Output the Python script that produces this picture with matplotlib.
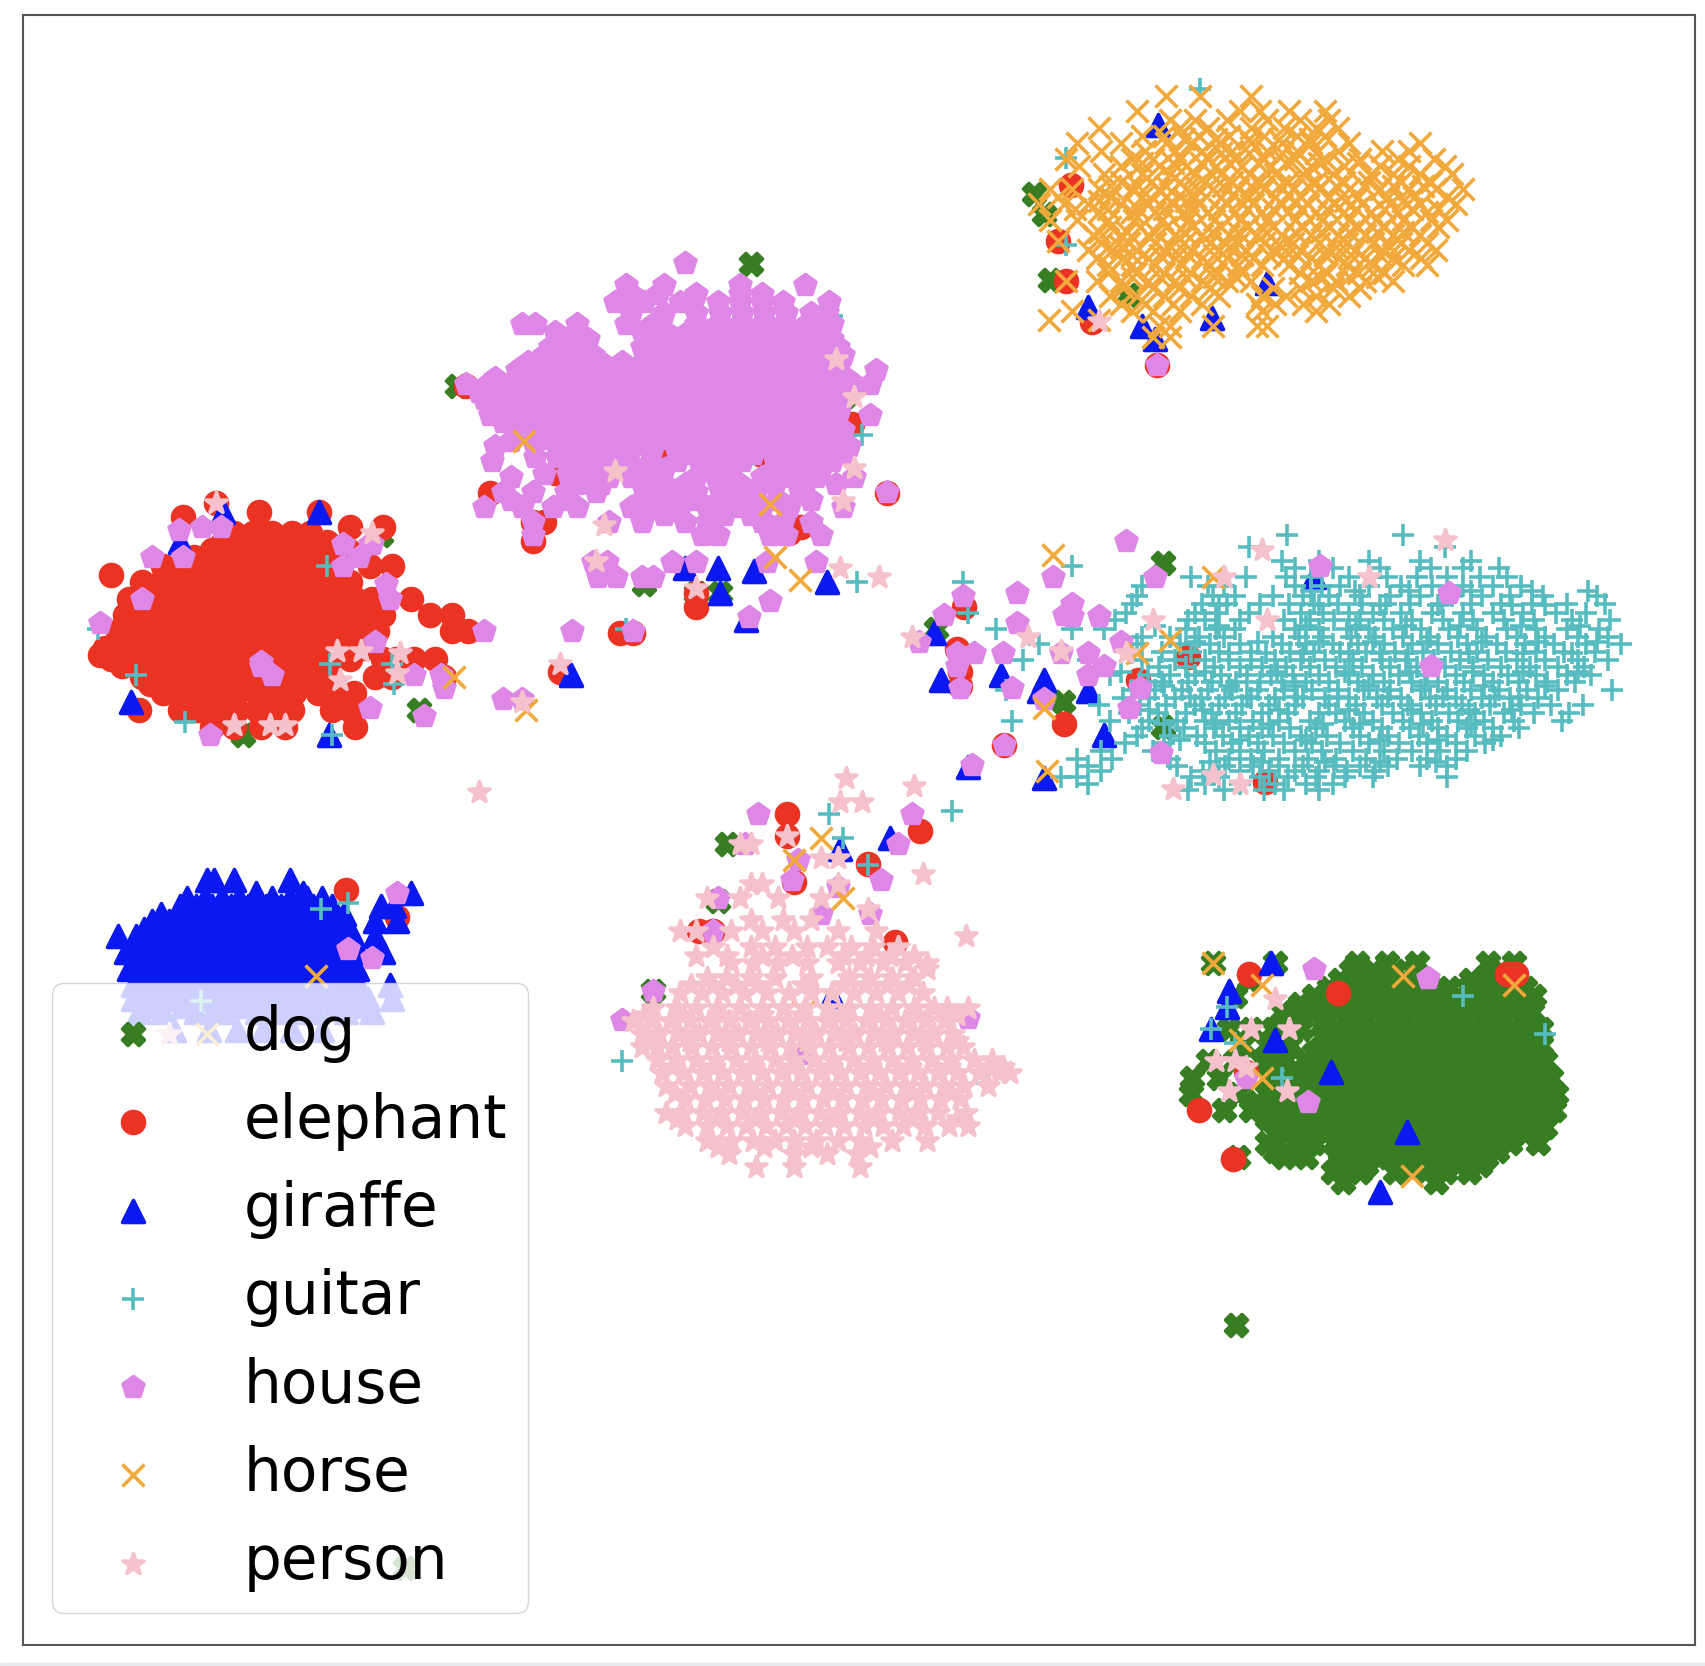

import numpy as np
import matplotlib
matplotlib.use("Agg")
import matplotlib.pyplot as plt
from matplotlib.patches import Rectangle

labels = ["dog", "elephant", "giraffe", "guitar", "house", "horse", "person"]
markers = ["X", "o", "^", "+", "p", "x", "*"]
colors = ["#377d22", "#eb3324", "#0a18f2", "#57bcc0", "#df87e7", "#f2a93b", "#f5c2cb"]

# Each entry is (y, [x values in that row]).
dog_rows = [
    (243, [690]), (355, [420]), (178, [950]), (197, [960]), (257, [965]), (271, [1037]),
    (365, [776]), (492, [350]), (517, [1069]), (537, [592]), (545, [640, 662]), (578, [860]),
    (645, [977]), (652, [385]), (668, [1069]), (675, [223]), (775, [668]), (828, [660]),
    (910, [600]), (1217, [1136]), (1440, [372]),
    (885, [1115, 1172, 1247, 1275, 1302, 1368, 1392]),
    (900, [1148, 1232, 1252, 1270, 1290, 1310, 1352, 1372, 1392]),
    (915, [1135, 1208, 1232, 1250, 1268, 1286, 1304, 1322, 1340, 1358, 1376, 1394, 1410]),
    (930, [1178, 1205, 1228, 1246, 1264, 1282, 1300, 1318, 1336, 1354, 1372, 1390, 1408]),
    (945, [1130, 1150, 1170, 1196, 1228, 1246, 1264, 1282, 1300, 1318, 1336, 1354, 1372, 1390, 1404, 1416]),
    (960, [1142, 1165, 1186, 1225, 1243, 1261, 1279, 1297, 1315, 1333, 1351, 1369, 1387, 1405, 1416]),
    (975, [1110, 1135, 1160, 1180, 1200, 1218, 1236, 1254, 1272, 1290, 1308, 1326, 1344, 1362, 1380, 1398, 1420]),
    (990, [1096, 1120, 1168, 1190, 1208, 1226, 1244, 1262, 1280, 1298, 1316, 1334, 1352, 1370, 1388, 1406, 1426]),
    (1005, [1095, 1138, 1165, 1183, 1201, 1219, 1237, 1255, 1273, 1291, 1309, 1327, 1345, 1363, 1381, 1399, 1417, 1430]),
    (1020, [1125, 1150, 1172, 1190, 1208, 1226, 1244, 1262, 1280, 1298, 1316, 1334, 1352, 1370, 1388, 1406, 1428]),
    (1035, [1180, 1198, 1216, 1234, 1252, 1270, 1288, 1306, 1324, 1342, 1360, 1378, 1396, 1420]),
    (1050, [1165, 1190, 1208, 1226, 1244, 1262, 1280, 1298, 1316, 1334, 1352, 1370, 1388, 1414]),
    (1063, [1138, 1180, 1200, 1240, 1258, 1276, 1294, 1312, 1330, 1348, 1366]),
    (1077, [1225, 1250, 1282, 1310, 1328, 1350]),
    (1086, [1320, 1234]),
    (892, [1242, 1262, 1282, 1300, 1380]),
    (908, [1222, 1241, 1260, 1278, 1296, 1314, 1332, 1350, 1367, 1385, 1402]),
    (922, [1195, 1218, 1238, 1256, 1274, 1292, 1310, 1328, 1346, 1364, 1382, 1400]),
    (937, [1190, 1218, 1236, 1254, 1272, 1290, 1308, 1326, 1344, 1362, 1380, 1398]),
    (952, [1215, 1234, 1252, 1270, 1288, 1306, 1324, 1342, 1360, 1378, 1396, 1412]),
    (967, [1175, 1208, 1227, 1245, 1263, 1281, 1299, 1317, 1335, 1353, 1371, 1389, 1407]),
    (982, [1190, 1209, 1227, 1245, 1263, 1281, 1299, 1317, 1335, 1353, 1371, 1389, 1410]),
    (997, [1178, 1199, 1217, 1235, 1253, 1271, 1289, 1307, 1325, 1343, 1361, 1379, 1397, 1416]),
    (1012, [1155, 1175, 1192, 1210, 1228, 1246, 1264, 1282, 1300, 1318, 1336, 1354, 1372, 1390, 1408, 1425]),
    (1027, [1165, 1184, 1202, 1220, 1238, 1256, 1274, 1292, 1310, 1328, 1346, 1364, 1382, 1400, 1415]),
    (1042, [1172, 1200, 1218, 1236, 1254, 1272, 1290, 1308, 1326, 1344, 1362, 1380, 1402]),
    (1057, [1172, 1192, 1232, 1250, 1268, 1286, 1304, 1322, 1340, 1358, 1376]),
    (1070, [1232, 1256, 1290, 1316, 1340, 1360]),
]
elephant_rows = [
    (335, [1063]), (355, [428]), (390, [783]), (418, [605, 700]), (435, [510]), (453, [815, 450]),
    (462, [198]), (480, [500, 490]), (484, [736]), (497, [490]), (490, [725]), (170, [984]),
    (222, [972]), (258, [980]), (296, [1004]), (558, [886, 640]), (545, [640]), (582, [570, 582]),
    (596, [880]), (604, [1092]), (617, [515, 882]), (625, [1046]), (630, [882]), (665, [978]),
    (684, [923]), (718, [1163]), (748, [723]), (768, [723]), (763, [846]), (794, [798]),
    (810, [730]), (855, [642, 655]), (865, [823]), (842, [365]), (818, [318]),
    (895, [1148, 1385, 1393]), (912, [1230]), (1020, [1102]), (1065, [1133]), (985, [1145]),
    (470, [238]), (475, [168]), (528, [102]), (484, [322, 352]), (470, [293]),
    (490, [215, 232, 250, 268, 285]),
    (505, [195, 212, 228, 245, 262, 280, 296, 320]),
    (520, [150, 168, 185, 202, 218, 236, 252, 270, 288, 305, 340, 360]),
    (535, [130, 148, 165, 182, 200, 216, 234, 250, 268, 286, 304, 322]),
    (550, [118, 135, 152, 170, 186, 204, 220, 238, 254, 272, 290, 308, 326, 342, 378]),
    (565, [115, 132, 150, 166, 184, 200, 218, 234, 252, 268, 286, 302, 320, 336, 352, 395, 415]),
    (580, [108, 126, 142, 160, 176, 194, 210, 228, 244, 262, 278, 296, 312, 330, 346, 415, 430]),
    (595, [96, 114, 130, 148, 164, 182, 198, 216, 232, 250, 266, 284, 300, 318, 335]),
    (605, [102, 120, 138, 154, 172, 188, 206, 222, 240, 256, 274, 290, 306, 322, 352, 364, 380, 400]),
    (622, [130, 148, 164, 182, 198, 216, 232, 250, 266, 284, 300, 345, 360, 408]),
    (637, [150, 168, 184, 202, 218, 236, 252, 270, 292, 310, 325]),
    (652, [128, 165, 182, 200, 218, 236, 254, 268, 305, 322]),
    (668, [195, 215, 240, 262, 326]),
    (602, [92, 110]), (612, [112, 128]), (628, [138, 156]), (498, [205, 300]), (512, [178, 310]),
]
giraffe_rows = [
    (282, [1000]), (115, [1064]), (260, [1165]), (292, [1114]), (300, [1050]), (312, [1062]),
    (470, [293, 205]), (498, [165]), (522, [660, 630]), (525, [693]), (535, [760]), (545, [662]),
    (570, [686]), (582, [858]), (620, [525, 920]), (625, [865, 960]), (635, [1000, 955]),
    (645, [120]), (675, [1015, 302]), (705, [890]), (715, [960]), (770, [818]),
    (530, [1208]), (885, [1168]), (910, [1130]), (925, [1128]), (945, [1113]), (955, [1172]),
    (985, [1223]), (1040, [1293]), (1095, [1268]), (915, [765]), (780, [772]),
    (808, [190, 197, 215, 266]), (820, [235, 278, 378]),
    (832, [165, 180, 195, 212, 228, 244, 258, 272, 288, 305, 350, 362]),
    (846, [140, 155, 170, 186, 202, 216, 232, 248, 262, 278, 292, 308, 345, 365]),
    (860, [108, 125, 142, 156, 172, 188, 204, 218, 234, 250, 264, 280, 296, 312, 324, 345]),
    (875, [116, 132, 150, 166, 180, 196, 212, 226, 242, 258, 272, 288, 304, 318, 330, 352]),
    (890, [118, 134, 148, 164, 178, 194, 208, 224, 238, 254, 268, 284, 298, 314, 328]),
    (905, [122, 138, 154, 170, 186, 202, 218, 234, 250, 266, 282, 298, 314, 330, 358]),
    (918, [122, 140, 158, 176, 192, 210, 228, 246, 264, 282, 300, 318, 338, 360]),
    (930, [128, 150, 180, 205, 236, 256, 272, 290, 318, 342]),
    (946, [160, 192, 218, 242, 268, 296]),
    (825, [172, 188, 204, 220, 236, 250, 266, 282, 296]),
    (840, [148, 163, 178, 194, 209, 224, 240, 255, 270, 285, 300, 316]),
    (853, [132, 148, 164, 179, 195, 210, 226, 241, 256, 271, 286, 302, 318]),
    (868, [124, 140, 158, 173, 188, 204, 222, 236, 251, 266, 280, 296, 312]),
    (883, [126, 142, 157, 172, 187, 202, 217, 232, 247, 262, 277, 292, 307, 322]),
    (898, [128, 145, 160, 176, 192, 208, 226, 242, 258, 274, 290, 306, 322]),
    (912, [132, 150, 166, 182, 200, 216, 240, 258, 276, 292, 310, 326]),
    (924, [138, 168, 198, 220, 246, 264, 282, 308, 330]),
]
guitar_rows = [
    (82, [1103]), (145, [980]), (225, [980]), (290, [765]), (400, [792]), (520, [300, 985]),
    (535, [885, 788]), (578, [90, 575]), (610, [303, 360]), (620, [125]), (628, [362]),
    (663, [170]), (675, [305]), (745, [875]), (748, [762]), (770, [775]), (830, [320]),
    (835, [295]), (915, [1345]), (950, [1420]), (975, [572]), (995, [906]), (920, [185]),
    (945, [1113]), (925, [1128]), (958, [1135]), (990, [1178]), (795, [798]),
    (492, [1183, 1290]), (503, [1148, 1328]),
    (515, [1178, 1212, 1258, 1305, 1352]),
    (530, [1095, 1145, 1182, 1205, 1240, 1275, 1302, 1330, 1360, 1385]),
    (548, [1045, 1115, 1135, 1170, 1198, 1222, 1250, 1278, 1305, 1335, 1362, 1388, 1418, 1468]),
    (563, [890, 1035, 1098, 1118, 1148, 1196, 1216, 1240, 1262, 1288, 1316, 1345, 1372, 1400, 1430, 1458]),
    (578, [915, 985, 1015, 1090, 1118, 1135, 1190, 1212, 1238, 1258, 1280, 1306, 1332, 1358, 1385, 1412, 1440, 1470]),
    (592, [955, 1045, 1085, 1112, 1140, 1178, 1200, 1225, 1248, 1272, 1298, 1322, 1348, 1376, 1402, 1428, 1458, 1490]),
    (606, [940, 1000, 1050, 1080, 1108, 1130, 1150, 1172, 1196, 1218, 1244, 1270, 1292, 1318, 1342, 1368, 1394, 1420, 1450, 1478]),
    (620, [1020, 1055, 1075, 1098, 1122, 1146, 1168, 1188, 1212, 1240, 1262, 1286, 1312, 1338, 1364, 1386, 1412, 1440, 1462]),
    (634, [925, 1040, 1062, 1086, 1110, 1132, 1156, 1180, 1206, 1230, 1254, 1278, 1306, 1330, 1352, 1378, 1404, 1432, 1482]),
    (648, [1010, 1048, 1072, 1098, 1120, 1142, 1166, 1190, 1222, 1246, 1270, 1294, 1320, 1344, 1370, 1398, 1426, 1455]),
    (662, [930, 1020, 1056, 1082, 1108, 1130, 1152, 1176, 1204, 1236, 1262, 1290, 1316, 1340, 1364, 1392, 1436]),
    (676, [1045, 1075, 1100, 1124, 1148, 1170, 1196, 1220, 1250, 1276, 1304, 1330, 1356, 1380]),
    (690, [1012, 1060, 1118, 1140, 1162, 1190, 1215, 1244, 1272, 1298, 1324, 1348]),
    (704, [1000, 1082, 1126, 1152, 1176, 1198, 1226, 1250, 1276, 1305, 1330]),
    (714, [975, 990, 1095, 1120, 1158, 1184, 1210, 1236, 1262, 1330]),
    (726, [1092, 1125, 1162, 1180, 1212]),
    (522, [1190, 1225, 1268, 1315, 1345, 1378]),
    (538, [1050, 1110, 1125, 1190, 1215, 1232, 1258, 1288, 1316, 1345, 1372, 1398]),
    (555, [1040, 1105, 1128, 1158, 1185, 1208, 1230, 1252, 1274, 1296, 1325, 1352, 1380, 1408, 1440, 1475]),
    (570, [1025, 1092, 1108, 1140, 1180, 1204, 1226, 1250, 1272, 1298, 1326, 1354, 1382, 1410, 1445, 1480]),
    (585, [1050, 1075, 1102, 1125, 1170, 1194, 1216, 1242, 1264, 1290, 1314, 1340, 1366, 1394, 1420, 1450, 1478]),
    (599, [1068, 1095, 1120, 1150, 1186, 1208, 1232, 1256, 1282, 1308, 1334, 1358, 1384, 1412, 1438, 1466]),
    (613, [1065, 1090, 1116, 1140, 1160, 1182, 1204, 1228, 1252, 1278, 1302, 1328, 1354, 1380, 1406, 1432, 1456]),
    (627, [1048, 1068, 1092, 1114, 1136, 1158, 1178, 1200, 1222, 1248, 1272, 1298, 1322, 1346, 1372, 1396, 1422, 1448]),
    (641, [1032, 1056, 1080, 1104, 1126, 1150, 1172, 1198, 1218, 1240, 1266, 1288, 1314, 1338, 1362, 1388, 1414]),
    (655, [1038, 1064, 1090, 1114, 1136, 1160, 1184, 1212, 1228, 1254, 1280, 1306, 1332, 1356, 1382, 1410, 1442]),
    (669, [1050, 1088, 1116, 1140, 1160, 1186, 1210, 1244, 1270, 1296, 1322, 1348, 1372, 1396]),
    (683, [1034, 1070, 1108, 1132, 1156, 1180, 1206, 1232, 1258, 1286, 1312, 1338, 1365]),
    (697, [990, 1022, 1075, 1130, 1150, 1176, 1202, 1228, 1256, 1284, 1312, 1338]),
    (708, [1012, 1106, 1140, 1166, 1190, 1212, 1238, 1264]),
    (720, [1000, 1108, 1140, 1172, 1200, 1225]),
    (556, [1120, 1212, 1268, 1322, 1390, 1420]),
    (600, [1040, 1130, 1164, 1198, 1240, 1268, 1294, 1350, 1400, 1445]),
    (640, [1094, 1146, 1192, 1230, 1276, 1326, 1374, 1396]),
    (665, [1070, 1118, 1166, 1216, 1250, 1308, 1352]),
    (543, [1205, 1245, 1295, 1352, 1408, 1460]),
    (575, [1062, 1120, 1200, 1246, 1292, 1342, 1398, 1452]),
    (590, [1098, 1156, 1212, 1262, 1312, 1362, 1414, 1468]),
    (617, [1030, 1108, 1174, 1236, 1296, 1354, 1400, 1450]),
    (630, [1070, 1130, 1190, 1258, 1310, 1364, 1420]),
    (652, [1056, 1106, 1176, 1240, 1298, 1350, 1390]),
    (680, [1085, 1140, 1200, 1268, 1322, 1372]),
    (700, [1112, 1160, 1218, 1268, 1320]),
]
house_rows = [
    (242, [630]), (262, [575, 610, 680, 740]), (278, [565, 592, 625, 660, 680, 700, 720, 762]),
    (298, [480, 492, 530, 575, 600, 640, 660, 680, 700, 720, 742, 765]),
    (312, [515, 540, 600, 622, 642, 662, 682, 702, 722, 744, 765]),
    (326, [500, 522, 545, 595, 615, 635, 655, 675, 695, 715, 735, 755, 775]),
    (340, [475, 495, 518, 540, 560, 580, 600, 620, 640, 660, 680, 700, 720, 740, 760, 805]),
    (353, [428, 448, 468, 488, 508, 528, 548, 568, 588, 608, 628, 648, 668, 688, 708, 728, 748, 768, 785, 800]),
    (367, [445, 462, 482, 502, 522, 542, 562, 582, 602, 622, 642, 662, 682, 702, 722, 742, 762]),
    (381, [450, 470, 490, 510, 530, 550, 570, 590, 610, 630, 650, 670, 690, 710, 730, 750, 770, 800]),
    (395, [472, 492, 512, 532, 552, 572, 592, 612, 632, 652, 672, 692, 712, 732, 752, 775]),
    (410, [455, 520, 540, 560, 580, 600, 620, 640, 660, 680, 700, 720, 740, 760, 780]),
    (424, [452, 530, 550, 570, 622, 642, 662, 682, 720, 745, 765]),
    (438, [470, 540, 560, 580, 600, 640, 665, 700, 725, 750, 785]),
    (452, [490, 462, 520, 548, 600, 620, 640, 672, 695, 735, 815]),
    (466, [445, 480, 508, 530, 580, 598, 625, 650, 680, 700, 725, 775]),
    (480, [490, 560, 590, 630, 650, 700, 720, 745]),
    (492, [490, 645, 660, 708, 722, 755]),
    (270, [580, 605, 640, 680, 700]),
    (288, [580, 610, 640, 662, 682, 702, 722, 745, 760]),
    (305, [510, 530, 590, 612, 632, 652, 672, 692, 712, 732, 752]),
    (319, [505, 528, 590, 610, 630, 650, 670, 690, 710, 730, 750, 770]),
    (333, [485, 508, 530, 552, 572, 592, 612, 632, 652, 672, 692, 712, 732, 752, 772]),
    (347, [455, 478, 498, 518, 538, 558, 578, 598, 618, 638, 658, 678, 698, 718, 738, 758, 778]),
    (360, [440, 458, 478, 498, 518, 538, 558, 578, 598, 618, 638, 658, 678, 698, 718, 738, 758, 772]),
    (374, [458, 476, 496, 516, 536, 556, 576, 596, 616, 636, 656, 676, 696, 716, 736, 756, 772]),
    (388, [462, 482, 502, 522, 542, 562, 582, 602, 622, 642, 662, 682, 702, 722, 742, 762]),
    (403, [505, 530, 550, 570, 590, 610, 630, 650, 670, 690, 710, 730, 750, 770]),
    (417, [535, 558, 578, 598, 632, 652, 672, 692, 710, 735, 755, 775]),
    (431, [545, 568, 590, 610, 650, 672, 712, 735, 755]),
    (445, [530, 552, 590, 610, 630, 660, 680, 712, 740, 768]),
    (459, [470, 520, 590, 612, 640, 662, 688, 715, 745]),
    (405, [470, 490, 510]), (420, [492, 512]), (436, [500, 522]), (473, [610, 665, 690]),
    (497, [1035]), (516, [545, 558, 618, 640, 750, 705]), (530, [550, 566, 590, 600, 1062, 968]),
    (552, [708]), (567, [688]), (580, [582, 526, 445]),
    (335, [1063]), (500, [340, 315, 342]), (512, [168, 140, 330]), (484, [203, 186]),
    (487, [164]), (520, [1213, 315]), (545, [1332, 935]), (548, [885]), (555, [985]),
    (565, [978, 868]), (572, [92, 935]), (590, [845, 345, 1030]), (600, [895, 922, 975, 1000]),
    (612, [1015, 1315, 240, 880]), (620, [250, 1000, 380, 405]), (632, [408, 882, 1048, 930]),
    (642, [462, 480, 960]), (650, [1038, 340]), (658, [390]), (675, [193]), (692, [1067]),
    (684, [923]), (703, [893]), (748, [697, 838]), (775, [825, 685]), (790, [733]),
    (808, [810, 728]), (815, [770]), (840, [755, 800]), (825, [660]), (855, [655]),
    (820, [365]), (872, [320]), (880, [342]), (890, [1208]), (898, [1313]), (1012, [1202]),
    (990, [1145]), (910, [600]), (935, [890]), (937, [572]), (968, [735]), (478, [700]),
    (537, [355]), (550, [130, 358]), (608, [240]), (600, [880]), (566, [1010, 985]),
]
horse_rows = [
    (88, [1072, 1103, 1150]),
    (102, [1045, 1140, 1158, 1218, 1185]),
    (118, [1010, 1085, 1110, 1150, 1180, 1210, 1230]),
    (132, [990, 1030, 1072, 1095, 1120, 1150, 1178, 1205, 1240, 1305]),
    (146, [980, 1040, 1060, 1085, 1110, 1135, 1162, 1190, 1218, 1250, 1285, 1318]),
    (160, [1015, 1050, 1075, 1098, 1122, 1148, 1172, 1198, 1225, 1260, 1280, 1305, 1335]),
    (174, [965, 985, 1010, 1040, 1065, 1090, 1115, 1138, 1162, 1188, 1212, 1240, 1268, 1295, 1320, 1345]),
    (188, [955, 978, 1000, 1030, 1055, 1078, 1102, 1128, 1152, 1178, 1202, 1226, 1252, 1278, 1305, 1338]),
    (202, [965, 990, 1018, 1042, 1068, 1092, 1116, 1140, 1165, 1190, 1215, 1240, 1265, 1290, 1315, 1330]),
    (216, [1005, 1030, 1055, 1080, 1105, 1130, 1155, 1178, 1205, 1230, 1255, 1280, 1305]),
    (230, [1000, 1022, 1045, 1070, 1095, 1120, 1145, 1170, 1195, 1220, 1245, 1270, 1295, 1320]),
    (244, [1018, 1040, 1062, 1086, 1112, 1138, 1160, 1185, 1212, 1238, 1262, 1290, 1312]),
    (258, [1008, 1030, 1055, 1080, 1105, 1128, 1150, 1205, 1228, 1255, 1280]),
    (272, [1020, 1045, 1070, 1095, 1120, 1160, 1182, 1210, 1240]),
    (286, [985, 1040, 1060, 1085, 1160, 1210]),
    (294, [964, 1010]), (300, [1065, 1075, 1115, 1155, 1165]),
    (110, [1075, 1098, 1128, 1165, 1195, 1222]),
    (125, [1050, 1070, 1102, 1130, 1162, 1192, 1218]),
    (139, [1012, 1052, 1080, 1105, 1132, 1165, 1192, 1230, 1270, 1295]),
    (153, [992, 1030, 1065, 1090, 1118, 1142, 1168, 1205, 1235, 1268, 1295, 1328]),
    (167, [1030, 1058, 1085, 1108, 1132, 1158, 1184, 1210, 1235, 1258, 1288, 1315]),
    (181, [972, 1020, 1050, 1072, 1098, 1122, 1148, 1172, 1196, 1222, 1248, 1276, 1300, 1330]),
    (195, [1010, 1040, 1062, 1088, 1110, 1135, 1160, 1184, 1210, 1235, 1260, 1285, 1312]),
    (209, [1020, 1048, 1072, 1096, 1122, 1146, 1170, 1198, 1222, 1248, 1272, 1298, 1322]),
    (223, [1012, 1038, 1062, 1088, 1112, 1138, 1162, 1188, 1212, 1238, 1262, 1288, 1312]),
    (237, [1008, 1032, 1055, 1080, 1105, 1128, 1152, 1180, 1205, 1230, 1255, 1280, 1306]),
    (251, [1018, 1044, 1070, 1095, 1118, 1142, 1195, 1220, 1248, 1272]),
    (265, [1032, 1060, 1084, 1112, 1170, 1195, 1225, 1250]),
    (279, [1030, 1052, 1078, 1105, 1155, 1172, 1198, 1222]),
    (141, [1122, 1148, 1178, 1210]),
    (185, [1010, 1090, 1140, 1190, 1236, 1290]),
    (227, [1030, 1076, 1130, 1178, 1228, 1278]),
    (128, [1088, 1118, 1148, 1176, 1204]),
    (150, [1050, 1078, 1104, 1130, 1156, 1182, 1212, 1248]),
    (171, [1020, 1046, 1072, 1098, 1124, 1150, 1176, 1202, 1228, 1254, 1280, 1308]),
    (192, [988, 1018, 1046, 1070, 1096, 1120, 1146, 1170, 1196, 1220, 1246, 1272, 1298, 1322]),
    (213, [1010, 1036, 1062, 1088, 1114, 1138, 1164, 1190, 1214, 1240, 1266, 1290]),
    (234, [1040, 1066, 1092, 1116, 1142, 1166, 1192, 1218, 1242, 1268]),
    (255, [1040, 1066, 1090, 1116, 1136, 1212, 1240, 1266]),
    (310, [1060, 1075]), (222, [972]), (258, [980]), (405, [482]), (463, [708]),
    (512, [712]), (533, [735]), (622, [417]), (652, [483]), (885, [1115]), (897, [1290]),
    (905, [1160]), (897, [290]), (950, [190]), (905, [1392]), (1080, [1298]), (530, [1115]),
    (588, [1075]), (600, [1045]), (510, [968]), (650, [960]), (708, [962]), (770, [755]),
    (825, [775]), (790, [730]), (955, [1140]), (990, [1160]), (930, [738]),
]
person_rows = [
    (715, [778]), (722, [840]), (728, [440]), (737, [772, 792]), (775, [680, 690]),
    (768, [723]), (788, [755, 770]), (803, [848]), (812, [690, 700, 770]),
    (496, [1328]), (505, [1160]), (530, [1258, 1125, 808]), (570, [1060, 1165]), (522, [772]),
    (585, [945, 838]), (598, [332, 310, 975]), (625, [312]), (666, [215, 248, 262]),
    (618, [365]), (600, [368, 1035]), (645, [480]), (610, [515]), (482, [555]), (433, [565]),
    (330, [768]), (365, [785]), (430, [785]), (460, [775]), (515, [548]), (540, [640]),
    (462, [198]), (490, [342]), (295, [1010]), (725, [1078]), (712, [1115]), (720, [1140]),
    (860, [888]), (890, [852]), (945, [1150, 1185]), (975, [1118, 1135]), (1002, [1130, 1183]),
    (980, [1145]), (918, [1172]), (950, [155]),
    (825, [650, 680, 715, 755]), (835, [798]),
    (845, [690, 720, 745]),
    (855, [625, 640, 672, 700, 730, 770, 805]),
    (870, [655, 690, 712, 742, 760, 782, 802, 825]),
    (885, [672, 692, 714, 742, 770, 790, 812, 832, 852]),
    (898, [650, 668, 690, 712, 745, 780, 800, 820, 840]),
    (912, [625, 645, 664, 684, 705, 725, 745, 765, 785, 805, 825, 848]),
    (926, [600, 622, 640, 660, 680, 700, 720, 740, 760, 780, 800, 820, 840, 858, 870, 890]),
    (938, [582, 598, 616, 634, 652, 670, 688, 706, 724, 742, 760, 778, 796, 814, 832, 850, 868]),
    (950, [590, 606, 624, 642, 660, 678, 696, 714, 732, 750, 768, 786, 804, 822, 840, 858, 876]),
    (962, [590, 604, 618, 636, 654, 672, 690, 708, 726, 744, 762, 780, 798, 816, 834, 852, 870, 885]),
    (974, [604, 622, 640, 658, 676, 694, 712, 730, 748, 766, 784, 802, 820, 838, 856, 874, 895, 912]),
    (986, [608, 628, 646, 664, 682, 700, 718, 736, 754, 772, 790, 808, 826, 844, 862, 880, 900, 918, 928]),
    (998, [612, 634, 652, 670, 688, 706, 724, 742, 760, 778, 796, 814, 832, 850, 868, 886, 908]),
    (1010, [630, 648, 666, 684, 702, 720, 738, 756, 774, 792, 810, 828, 846, 864, 882]),
    (1022, [612, 628, 646, 664, 682, 700, 718, 736, 754, 772, 790, 808, 826, 844, 862, 888]),
    (1034, [630, 650, 668, 686, 704, 722, 740, 758, 776, 794, 812, 830, 850, 872, 890]),
    (1048, [650, 672, 692, 712, 730, 750, 770, 790, 820, 852]),
    (1060, [670, 730, 760, 788]),
    (1072, [695, 730, 790]),
    (878, [640, 668, 700, 728, 775, 796, 818, 840]),
    (905, [635, 655, 676, 696, 738, 775, 795, 815, 835]),
    (932, [592, 628, 664, 700, 736, 772, 808, 844, 880]),
    (956, [600, 634, 670, 706, 742, 778, 814, 850, 880]),
    (980, [618, 656, 692, 728, 764, 800, 836, 872, 908, 922]),
    (1004, [620, 658, 694, 730, 766, 802, 838, 874]),
    (1028, [622, 658, 694, 730, 766, 802, 838, 880]),
    (1054, [660, 702, 745, 800]),
]


def unroll(rows):
    xs = np.concatenate([np.asarray(row, dtype=float) for _, row in rows])
    ys = np.concatenate([np.full(len(row), y, dtype=float) for y, row in rows])
    return xs, ys


all_rows = [dog_rows, elephant_rows, giraffe_rows, guitar_rows, house_rows, horse_rows, person_rows]

fig = plt.figure(figsize=(17.06, 16.66), dpi=100)
fig.add_artist(Rectangle((0, 0), 1, 3 / 1666, transform=fig.transFigure, color="#e6ecef"))
ax = fig.add_axes([23 / 1706, 1 - 1645 / 1666, 1672 / 1706, 1630 / 1666])

for rows, label, marker, color in zip(all_rows, labels, markers, colors):
    xs, ys = unroll(rows)
    ax.scatter(xs, ys, s=250, marker=marker, color=color, label=label, linewidths=2.6)

ax.set_xlim(21, 1558)
ax.set_ylim(1511, 14)
ax.set_xticks([])
ax.set_yticks([])
for spine in ax.spines.values():
    spine.set_color("#555555")
    spine.set_linewidth(1.5)

ax.legend(loc="lower left", fontsize=43, bbox_to_anchor=(-0.0003, 0.0012), labelspacing=0.49,
          borderpad=0.35, handletextpad=0.85)

plt.savefig("out.png", dpi=100)
